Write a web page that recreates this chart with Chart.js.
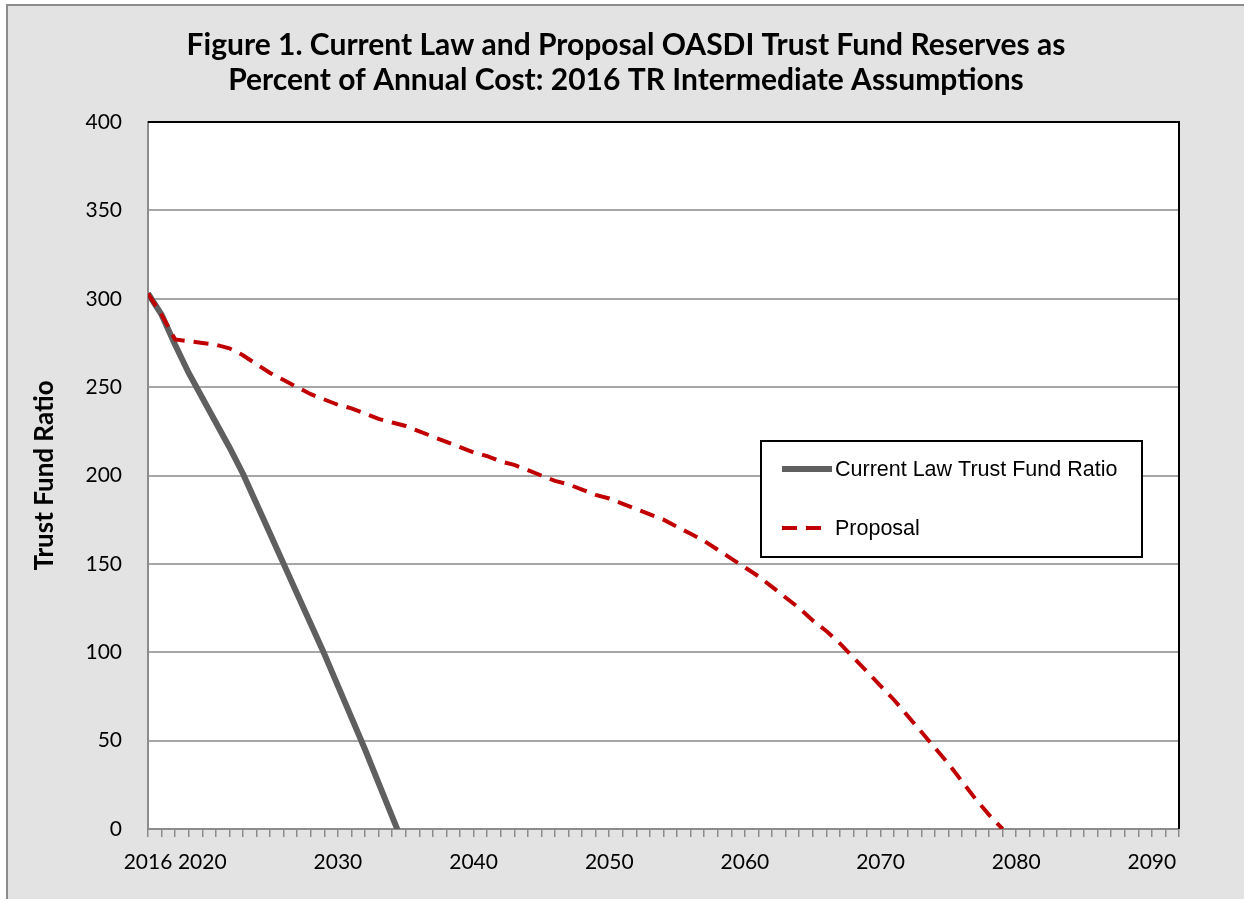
<!DOCTYPE html>
<html>
<head>
<meta charset="utf-8">
<title>Figure 1. OASDI Trust Fund Reserves</title>
<script src="https://cdn.jsdelivr.net/npm/chart.js@4.4.0/dist/chart.umd.min.js"></script>
<style>
  html, body { margin: 0; padding: 0; background: #ffffff; }
  #wrap { width: 1244px; height: 899px; }
</style>
</head>
<body>
<div id="wrap"><canvas id="trustChart" width="1244" height="899"></canvas></div>
<script>
// Years on the category axis
const years = [
    2016, 2017, 2018, 2019, 2020, 2021, 2022, 2023, 2024, 2025,
    2026, 2027, 2028, 2029, 2030, 2031, 2032, 2033, 2034, 2035,
    2036, 2037, 2038, 2039, 2040, 2041, 2042, 2043, 2044, 2045,
    2046, 2047, 2048, 2049, 2050, 2051, 2052, 2053, 2054, 2055,
    2056, 2057, 2058, 2059, 2060, 2061, 2062, 2063, 2064, 2065,
    2066, 2067, 2068, 2069, 2070, 2071, 2072, 2073, 2074, 2075,
    2076, 2077, 2078, 2079, 2080, 2081, 2082, 2083, 2084, 2085,
    2086, 2087, 2088, 2089, 2090, 2091, 2092
];

// Years that carry a tick label
const labeledYears = [2016, 2020, 2030, 2040, 2050, 2060, 2070, 2080, 2090];

// Current law trust fund ratio, 2016-2035 (runs below zero and is clipped)
const currentLaw = [
    303, 291, 274, 258, 244, 230, 216, 201, 184, 167,
    150, 133, 116, 99, 81, 63, 45, 26, 7, -12
];

// Proposal trust fund ratio, 2016-2079
const proposal = [
    303, 291, 277, 276, 275, 274, 272, 268, 263, 258,
    254, 250, 246, 243, 240, 238, 235, 232, 230, 228,
    225, 222, 219, 216, 213, 211, 208, 206, 203, 200,
    197, 195, 192, 189, 187, 184, 181, 178, 175, 171,
    167, 163, 158, 153, 148, 143, 137, 131, 125, 118,
    112, 105, 97, 89, 81, 73, 64, 55, 46, 37,
    27, 17, 8, 0
];

const seriesNames = ['Current Law Trust Fund Ratio', 'Proposal'];
const titleLines = [
    'Figure 1. Current Law and Proposal OASDI Trust Fund Reserves as',
    'Percent of Annual Cost: 2016 TR Intermediate Assumptions'
];

const FONT = 'Lato, "Open Sans", sans-serif';

/**
 * Gray page, white plot area, black top/right plot edges
 */
const chartFrame = {
    id: 'chartFrame',
    beforeDraw(chart) {
        const { ctx, chartArea: a, width, height } = chart;
        ctx.save();
        ctx.fillStyle = '#ffffff';
        ctx.fillRect(0, 0, width, height);
        ctx.fillStyle = '#e3e3e3';
        ctx.fillRect(7, 5, width, height);
        ctx.strokeStyle = '#8c8c8c';
        ctx.lineWidth = 2;
        ctx.beginPath();
        ctx.moveTo(7, height);
        ctx.lineTo(7, 5);
        ctx.lineTo(width, 5);
        ctx.stroke();
        ctx.fillStyle = '#ffffff';
        ctx.fillRect(a.left, a.top, a.width, a.height);
        ctx.restore();
    },
    beforeDatasetsDraw(chart) {
        const { ctx, chartArea: a } = chart;
        ctx.save();
        ctx.strokeStyle = '#000000';
        ctx.lineWidth = 2;
        ctx.beginPath();
        ctx.moveTo(a.left, a.top);
        ctx.lineTo(a.right, a.top);
        ctx.lineTo(a.right, a.bottom);
        ctx.stroke();
        ctx.restore();
    }
};

/**
 * Boxed legend sitting inside the plot area
 */
const boxLegend = {
    id: 'boxLegend',
    afterDatasetsDraw(chart) {
        const { ctx } = chart;
        const box = { x: 761, y: 441, w: 381, h: 116 };
        ctx.save();
        ctx.fillStyle = '#ffffff';
        ctx.fillRect(box.x, box.y, box.w, box.h);
        ctx.strokeStyle = '#000000';
        ctx.lineWidth = 2;
        ctx.strokeRect(box.x, box.y, box.w, box.h);

        const rows = [469, 528];
        chart.data.datasets.forEach((ds, i) => {
            const y = rows[i];
            ctx.strokeStyle = ds.borderColor;
            ctx.lineWidth = ds.borderWidth;
            ctx.setLineDash(ds.borderDash || []);
            ctx.beginPath();
            ctx.moveTo(782, y);
            ctx.lineTo(i === 0 ? 832 : 824, y);
            ctx.stroke();
            ctx.setLineDash([]);

            ctx.fillStyle = '#000000';
            ctx.font = '21.5px "Liberation Sans", Arial, sans-serif';
            ctx.textBaseline = 'middle';
            ctx.textAlign = 'left';
            ctx.fillText(ds.label, 835, y + 1);
        });
        ctx.restore();
    }
};

new Chart(document.getElementById('trustChart'), {
    type: 'line',
    data: {
        labels: years,
        datasets: [{
            label: seriesNames[0],
            data: currentLaw,
            borderColor: '#5f5f5f',
            borderWidth: 6,
            pointRadius: 0,
            tension: 0,
            clip: 0,
            order: 1
        }, {
            label: seriesNames[1],
            data: proposal,
            borderColor: '#c00000',
            borderWidth: 4,
            borderDash: [15, 9],
            pointRadius: 0,
            tension: 0,
            clip: 0,
            order: 0
        }]
    },
    options: {
        responsive: false,
        animation: false,
        devicePixelRatio: 1,
        layout: {
            padding: { left: 8, right: 0, top: 0, bottom: 0 }
        },
        plugins: {
            legend: { display: false },
            tooltip: { enabled: false },
            title: {
                display: true,
                text: titleLines,
                color: '#000000',
                font: { family: FONT, size: 30, weight: 'bold', lineHeight: 1.167 },
                padding: { top: 27.5, bottom: 24.5 }
            }
        },
        scales: {
            x: {
                type: 'category',
                offset: false,
                afterFit(scale) {
                    scale.height = 70;
                },
                border: { color: '#8c8c8c', width: 2 },
                grid: {
                    drawOnChartArea: false,
                    drawTicks: true,
                    tickLength: 8,
                    color: '#8c8c8c',
                    lineWidth: 1.5
                },
                ticks: {
                    autoSkip: false,
                    maxRotation: 0,
                    minRotation: 0,
                    padding: 13,
                    color: '#000000',
                    font: { family: FONT, size: 21 },
                    callback(value) {
                        const year = years[value];
                        return labeledYears.includes(year) ? String(year) : '';
                    }
                }
            },
            y: {
                min: 0,
                max: 400,
                afterFit(scale) {
                    scale.width = 140;
                },
                border: { color: '#8c8c8c', width: 2 },
                grid: {
                    drawTicks: false,
                    color: '#a6a6a6',
                    lineWidth: 2
                },
                ticks: {
                    stepSize: 50,
                    padding: 26,
                    color: '#000000',
                    font: { family: FONT, size: 21 }
                },
                title: {
                    display: true,
                    text: 'Trust Fund Ratio',
                    color: '#000000',
                    font: { family: FONT, size: 26, weight: 'bold' },
                    padding: { top: 21, bottom: 0 }
                }
            },
            // empty right-hand margin so the title centres on the whole figure
            yMargin: {
                type: 'linear',
                position: 'right',
                afterFit(scale) {
                    scale.width = 65;
                },
                grid: { display: false },
                border: { display: false },
                ticks: { display: false }
            }
        }
    },
    plugins: [chartFrame, boxLegend]
});
</script>
</body>
</html>
